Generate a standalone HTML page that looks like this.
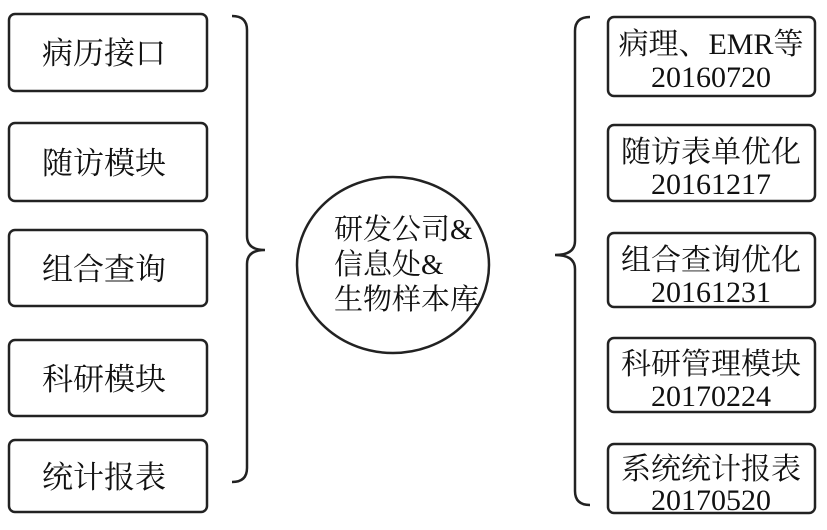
<!DOCTYPE html>
<html><head><meta charset="utf-8"><style>
body{margin:0;background:#fff;}
svg text{font-family:"Liberation Serif","Noto Serif CJK SC",serif;fill:#111;}
</style></head><body>
<svg width="827" height="525" viewBox="0 0 827 525" xmlns="http://www.w3.org/2000/svg">
<g fill="none" stroke="#222" stroke-width="2.5">
<rect x="9" y="14" width="198" height="77" rx="6"/>
<rect x="9" y="123" width="198" height="78" rx="6"/>
<rect x="9" y="230" width="198" height="76" rx="6"/>
<rect x="9" y="340" width="198" height="76" rx="6"/>
<rect x="9" y="440" width="198" height="72" rx="6"/>
<rect x="608" y="17" width="207" height="79" rx="6"/>
<rect x="608" y="125" width="207" height="76" rx="6"/>
<rect x="608" y="233" width="207" height="74" rx="6"/>
<rect x="608" y="338" width="207" height="74" rx="6"/>
<rect x="608" y="444" width="207" height="69" rx="6"/>
<ellipse cx="393" cy="265" rx="96" ry="88"/>
<path d="M232 16 Q247 16 247 30 L247 236 Q247 250 265 250 Q247 250 247 264 L247 468 Q247 482 232 482"/>
<path d="M590 17 Q575 17 575 31 L575 241 Q575 255 555 255 Q575 255 575 269 L575 491 Q575 505 590 505"/>
</g>
<g font-size="31" text-anchor="middle">
<text x="104" y="64">病历接口</text>
<text x="104" y="174">随访模块</text>
<text x="104" y="280">组合查询</text>
<text x="104" y="390">科研模块</text>
<text x="104" y="488">统计报表</text>
</g>
<g font-size="30" text-anchor="middle">
<text x="711" y="54">病理、EMR等</text>
<text x="711" y="87">20160720</text>
<text x="711" y="162">随访表单优化</text>
<text x="711" y="194">20161217</text>
<text x="711" y="270">组合查询优化</text>
<text x="711" y="302">20161231</text>
<text x="711" y="374">科研管理模块</text>
<text x="711" y="406">20170224</text>
<text x="711" y="479">系统统计报表</text>
<text x="711" y="510">20170520</text>
</g>
<g font-size="29">
<text x="334" y="239">研发公司&amp;</text>
<text x="334" y="274">信息处&amp;</text>
<text x="334" y="309">生物样本库</text>
</g>
</svg>
</body></html>
